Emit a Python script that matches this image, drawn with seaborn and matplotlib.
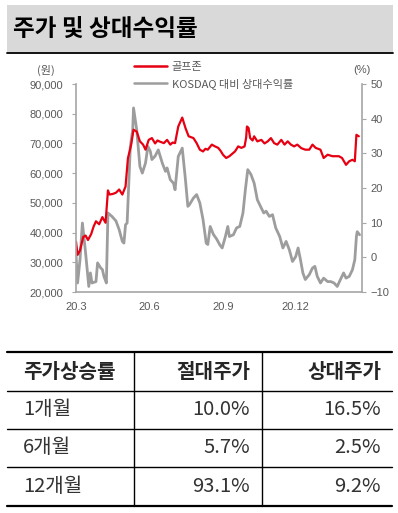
import numpy as np
import pandas as pd
import matplotlib
matplotlib.use('Agg')
import matplotlib.pyplot as plt
from matplotlib.lines import Line2D
from matplotlib.patches import Rectangle
from matplotlib.ticker import FuncFormatter
import seaborn as sns

# ---- data ----
start = pd.Timestamp('2020-03-01')

# 골프존 share price (won), days since 2020-03-01
price_days = [0, 2, 5, 9, 12, 15, 19, 22, 25, 29, 33, 37, 40, 42, 46, 50, 54, 58, 62, 65,
              69, 72, 76, 80, 84, 87, 91, 95, 99, 102, 105, 110, 114, 118, 121, 124, 128,
              133, 137, 141, 147, 151, 155, 159, 162, 165, 170, 174, 178, 181, 184, 188,
              192, 199, 203, 207, 211, 213, 214, 216, 218, 221, 223, 227, 232, 236, 240,
              244, 248, 252, 257, 261, 265, 269, 273, 277, 282, 287, 292, 296, 300, 306,
              310, 315, 321, 329, 333, 338, 342, 346, 349, 351, 354]
price = [37000, 32500, 34000, 38500, 39000, 37500, 39500, 42000, 43800, 42800, 45200, 43300,
         54200, 52800, 53000, 53400, 54500, 52800, 55500, 65000, 69500, 74600, 74000, 70700,
         69600, 67900, 71200, 71800, 70000, 71000, 70600, 70100, 71200, 69600, 70300, 70100,
         75700, 78700, 75200, 72400, 71800, 70100, 67900, 67300, 68200, 67900, 69600, 69000,
         68500, 67500, 66200, 65100, 65700, 67300, 69000, 68500, 69000, 72000, 75700, 75200,
         71800, 71000, 72400, 70700, 71200, 70000, 70700, 71800, 70100, 69600, 71200, 69600,
         70700, 69600, 69000, 69600, 68400, 67900, 67900, 69600, 68500, 67900, 65100, 66200,
         65700, 65700, 65100, 62800, 64000, 64500, 64000, 72900, 72400]

# KOSDAQ 대비 상대수익률 (%)
rel_days = [0, 2, 5, 8, 12, 16, 18, 20, 25, 27, 31, 33, 35, 38, 40, 45, 50, 54, 58, 60, 62,
            64, 68, 71, 72, 76, 80, 83, 87, 90, 93, 95, 99, 103, 108, 112, 114, 118, 122,
            124, 128, 133, 137, 140, 142, 147, 151, 155, 159, 163, 165, 168, 172, 176, 180,
            183, 187, 190, 192, 197, 201, 205, 209, 212, 215, 219, 223, 227, 232, 235, 238,
            242, 246, 250, 255, 259, 263, 267, 271, 275, 278, 281, 284, 287, 292, 296, 299,
            302, 306, 310, 315, 319, 323, 327, 331, 335, 338, 342, 346, 349, 351, 352, 355]
rel = [1.0, -7.4, -0.7, 9.9, 1.3, -8.4, -4.5, -7.4, -7.0, -1.6, -3.1, -3.5, -5.5, -7.4, 12.8,
       11.8, 10.5, 8.0, 4.6, 4.1, 9.4, 9.9, 32.0, 36.8, 43.1, 36.8, 26.2, 24.3, 27.2, 32.0,
       30.6, 28.2, 29.2, 31.0, 27.2, 24.8, 25.8, 22.4, 21.4, 19.5, 29.1, 31.5, 22.4, 14.7,
       15.2, 17.1, 18.1, 15.7, 10.9, 4.1, 3.7, 8.9, 6.6, 5.3, 3.6, 2.7, 6.0, 8.9, 6.0, 6.5,
       8.5, 8.9, 12.8, 19.5, 25.3, 23.9, 21.4, 16.6, 14.2, 12.8, 13.3, 11.8, 12.3, 8.5, 6.0,
       2.7, 4.6, 2.2, -1.2, 0.2, 2.7, -0.7, -4.5, -6.4, -5.0, -3.1, -2.6, -5.5, -7.4, -6.0,
       -7.0, -7.0, -7.4, -8.4, -6.4, -4.5, -6.0, -5.5, -3.6, -0.7, 6.0, 7.4, 6.5]

x_ticks = ['2020-03-01', '2020-06-01', '2020-09-01', '2020-12-01']
x_tick_labels = ['20.3', '20.6', '20.9', '20.12']

table_header = ['주가상승률', '절대주가', '상대주가']
table_periods = ['1개월', '6개월', '12개월']
table_abs = ['10.0%', '5.7%', '93.1%']
table_rel = ['16.5%', '2.5%', '9.2%']

price_df = pd.DataFrame({'date': start + pd.to_timedelta(price_days, unit='D'), 'price': price})
rel_df = pd.DataFrame({'date': start + pd.to_timedelta(rel_days, unit='D'), 'rel': rel})

# ---- style ----
sns.set_theme(style='white')
plt.rcParams['font.family'] = ['Liberation Sans', 'Noto Sans CJK KR']
KR = ['Noto Sans CJK KR', 'Liberation Sans']
TXT = '#595959'
SPINE = '#a6a6a6'
RED = '#e60012'
GRAY = '#9d9d9d'

W, H = 398, 513
fig = plt.figure(figsize=(W / 100, H / 100), dpi=100)

# background overlay in pixel coordinates (title band + table)
bg = fig.add_axes([0, 0, 1, 1])
bg.set_xlim(0, W)
bg.set_ylim(H, 0)
bg.axis('off')
bg.add_patch(Rectangle((7, 5), 386, 47, color='#d9d9d9', lw=0))
bg.plot([7, 393], [52.5, 52.5], color='black', lw=1.3)
bg.text(13, 29, '주가 및 상대수익률', family=KR, fontsize=17, fontweight='bold',
        va='center', ha='left', color='black')

# table
rows_y = [351.5, 390.5, 428.5, 466.5, 505.5]
for i, yy in enumerate(rows_y):
    bg.plot([7, 392], [yy, yy], color='black', lw=1.6 if i in (0, 4) else 1.0)
for xx in [134, 262]:
    bg.plot([xx, xx], [rows_y[0], rows_y[-1]], color='black', lw=1.0)
hy = (rows_y[0] + rows_y[1]) / 2
bg.text(23, hy, table_header[0], family=KR, fontsize=14.5, fontweight='bold', va='center', ha='left')
bg.text(250, hy, table_header[1], family=KR, fontsize=14.5, fontweight='bold', va='center', ha='right')
bg.text(381, hy, table_header[2], family=KR, fontsize=14.5, fontweight='bold', va='center', ha='right')
for i in range(3):
    yy = (rows_y[i + 1] + rows_y[i + 2]) / 2
    bg.text(23, yy, table_periods[i], family=KR, fontsize=14.5, va='center', ha='left', color='#333333')
    bg.text(250, yy, table_abs[i], family=KR, fontsize=14.5, va='center', ha='right', color='#333333')
    bg.text(381, yy, table_rel[i], family=KR, fontsize=14.5, va='center', ha='right', color='#333333')

# ---- chart ----
ax = fig.add_axes([76 / W, 1 - 292 / H, (362 - 76) / W, (292 - 84) / H])
ax2 = ax.twinx()

sns.lineplot(data=rel_df, x='date', y='rel', ax=ax2, color=GRAY, lw=2.0)
sns.lineplot(data=price_df, x='date', y='price', ax=ax, color=RED, lw=1.6)

# red line on top of the gray one
ax.set_zorder(ax2.get_zorder() + 1)
ax.patch.set_visible(False)

ax.set_xlim(start, start + pd.Timedelta(days=358))
ax.set_ylim(20000, 90000)
ax2.set_ylim(-10, 50)
ax.set_yticks(np.arange(20000, 90001, 10000))
ax2.set_yticks(np.arange(-10, 51, 10))
ax.yaxis.set_major_formatter(FuncFormatter(lambda v, p: f'{int(v):,}'))
ax.set_xticks(pd.to_datetime(x_ticks))
ax.set_xticklabels(x_tick_labels)

for a in (ax, ax2):
    a.set_xlabel('')
    a.set_ylabel('')
    a.spines['top'].set_visible(False)
    for s in ('left', 'right', 'bottom'):
        a.spines[s].set_color(SPINE)
        a.spines[s].set_linewidth(1.2)
    a.tick_params(labelsize=8, colors=TXT, length=3, width=0.8)
    a.tick_params(axis='both', color=SPINE)
ax.tick_params(axis='y', pad=6)
ax.tick_params(axis='x', pad=4)
ax2.tick_params(axis='y', pad=3)
ax.spines['right'].set_visible(False)
ax2.spines['left'].set_visible(False)
ax2.spines['bottom'].set_visible(False)

fig.text(46 / W, 1 - 70 / H, '(원)', family=KR, fontsize=8, color=TXT, ha='center', va='center')
fig.text(362 / W, 1 - 70 / H, '(%)', fontsize=8, color=TXT, ha='center', va='center')

handles = [Line2D([], [], color=RED, lw=1.8), Line2D([], [], color=GRAY, lw=1.8)]
ax.legend(handles, ['골프존', 'KOSDAQ 대비 상대수익률'], loc='upper left',
          bbox_to_anchor=(134 / W, 1 - 62 / H), bbox_transform=fig.transFigure,
          frameon=False, labelcolor=TXT, handlelength=3.0,
          handletextpad=0.4, labelspacing=0.55, borderpad=0, borderaxespad=0,
          prop={'family': KR, 'size': 8})

fig.savefig('out.png', dpi=100)
